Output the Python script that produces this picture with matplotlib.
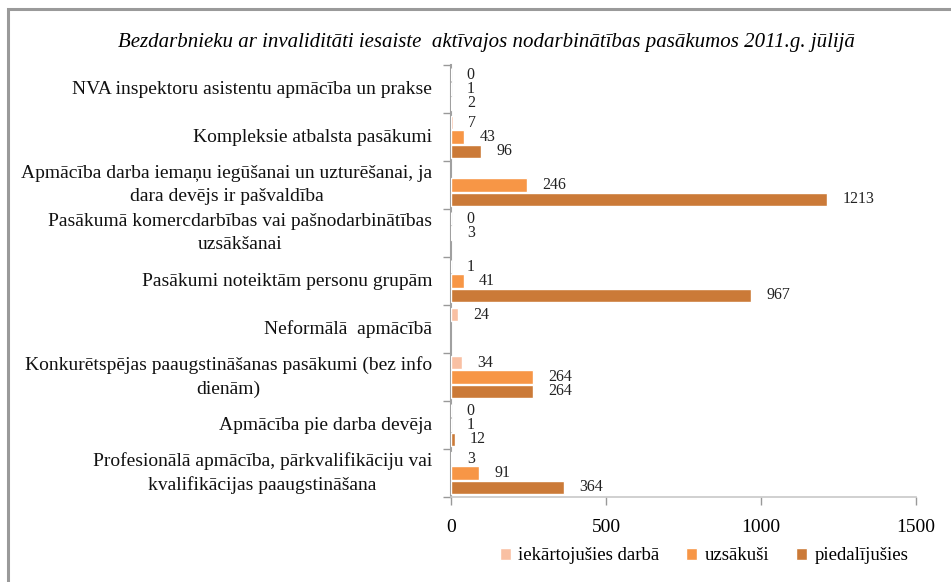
import numpy as np
import matplotlib
matplotlib.use("Agg")
import matplotlib.pyplot as plt
from matplotlib import patheffects as pe
from matplotlib.patches import Rectangle
from matplotlib.transforms import blended_transform_factory

categories = [
    "NVA inspektoru asistentu apmācība un prakse",
    "Kompleksie atbalsta pasākumi",
    "Apmācība darba iemaņu iegūšanai un uzturēšanai, ja\ndara devējs ir pašvaldība",
    "Pasākumā komercdarbības vai pašnodarbinātības\nuzsākšanai",
    "Pasākumi noteiktām personu grupām",
    "Neformālā  apmācībā",
    "Konkurētspējas paaugstināšanas pasākumi (bez info\ndienām)",
    "Apmācība pie darba devēja",
    "Profesionālā apmācība, pārkvalifikāciju vai\nkvalifikācijas paaugstināšana",
]
series_names = ["iekārtojušies darbā", "uzsākuši", "piedalījušies"]
iekartojusies = [0, 7, np.nan, 0, 1, 24, 34, 0, 3]
uzsakusi = [1, 43, 246, 3, 41, np.nan, 264, 1, 91]
piedalijusies = [2, 96, 1213, np.nan, 967, np.nan, 264, 12, 364]
xticks = [0, 500, 1000, 1500]
colors = ["#F9C0A3", "#F79646", "#CB7A38"]

plt.rcParams['font.family'] = ['Liberation Serif', 'DejaVu Serif']

fig = plt.figure(figsize=(9.51, 5.82), dpi=100)
W, H = 951, 582
# outer chart border
fig.patches.append(Rectangle((8 / W, -0.05), 1.2, (H - 9) / H + 0.05,
                             transform=fig.transFigure, fill=False,
                             edgecolor="#9a9a9a", linewidth=2.2))

ax = fig.add_axes([451 / W, 1 - 497 / H, (916 - 451) / W, (497 - 65) / H])

n = len(categories)
y = np.arange(n)
bh = 0.30
offsets = [-bh, 0, bh]
data = [iekartojusies, uzsakusi, piedalijusies]
shadow = [pe.SimplePatchShadow(offset=(1.5, -1.5), shadow_rgbFace="#bbbbbb", alpha=0.6), pe.Normal()]
for vals, off, col, name in zip(data, offsets, colors, series_names):
    vals = np.array(vals, dtype=float)
    bars = ax.barh(y + off, np.nan_to_num(vals), height=bh * 0.93, color=col,
                   edgecolor="white", linewidth=1.0, label=name, zorder=3)
    for i, (b, v) in enumerate(zip(bars, vals)):
        b.set_path_effects(shadow)
        if np.isnan(v):
            b.set_visible(False)
            continue
        ax.annotate(f"{int(v)}", (v, y[i] + off),
                    xytext=(11, 0), textcoords="offset points",
                    ha="left", va="center", fontsize=11.5, color="#222222")

ax.set_ylim(n - 0.5, -0.5)
ax.set_xlim(0, 1500)
ax.set_xticks(xticks)
ax.set_xticklabels([str(t) for t in xticks], fontsize=14)
ax.set_yticks([])
# category labels
trans = blended_transform_factory(fig.transFigure, ax.transData)
for yi, cat in zip(y, categories):
    fig.text(432 / W, yi, cat, transform=trans, ha="right", va="center",
             multialignment="center", fontsize=14, linespacing=1.45,
             color="#111111")
# category boundary tick marks
ax.set_yticks(np.arange(-0.5, n, 1.0), minor=True)
ax.tick_params(axis="y", which="minor", length=6, color="#999999", width=1)
ax.tick_params(axis="x", length=6, color="#999999", width=1, pad=10,
               direction="out")
for s in ["top", "right"]:
    ax.spines[s].set_visible(False)
ax.spines["left"].set_color("#a0a0a0")
ax.spines["left"].set_linewidth(1.5)
ax.spines["bottom"].set_color("#c8c8c8")
ax.spines["bottom"].set_linewidth(1.2)

fig.text(486 / W, 1 - 42 / H,
         "Bezdarbnieku ar invaliditāti iesaiste  aktīvajos nodarbinātības pasākumos 2011.g. jūlijā",
         ha="center", va="center", fontsize=15, style="italic")

handles, labels = ax.get_legend_handles_labels()
for h in handles:
    for p in h.patches:
        p.set_path_effects([])
leg = fig.legend(handles, labels, loc="center", bbox_to_anchor=(704 / W, 1 - 556 / H),
                 ncol=3, frameon=False, fontsize=13.5, handlelength=0.6,
                 handleheight=0.6, handletextpad=0.4, columnspacing=1.4)

fig.savefig("out.png", dpi=100)
